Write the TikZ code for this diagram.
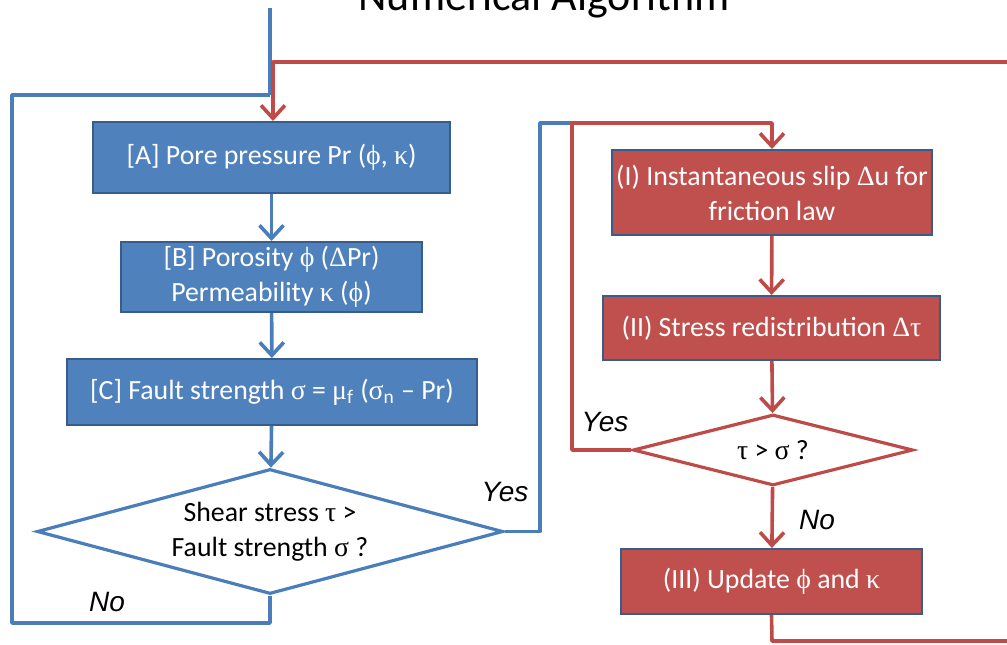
\documentclass[tikz,border=0pt]{standalone}
\usepackage{fontspec}
\setmainfont{Carlito}
\newfontfamily\grkfont{Liberation Serif}
\newfontfamily\lblfont{Liberation Sans}
\usepackage{tikz}
\usetikzlibrary{shapes.geometric,arrows.meta}
\definecolor{boxblue}{HTML}{4F81BD}
\definecolor{edgeblue}{HTML}{385D8A}
\definecolor{boxred}{HTML}{C0504D}
\definecolor{lineblue}{HTML}{4A7EBB}
\definecolor{linered}{HTML}{BE4B48}
\newcommand{\gk}[1]{{\grkfont #1}}

\begin{document}
\begin{tikzpicture}
	[x=0.5pt,y=-0.5pt,
	 every node/.style={font=\fontsize{13.9}{17.5}\selectfont,align=center,inner sep=0pt},
	 bbox/.style={rectangle,fill=boxblue,draw=edgeblue,line width=1pt,text=white},
	 rbox/.style={rectangle,fill=boxred,draw=edgeblue,line width=1pt,text=white},
	 bdec/.style={diamond,draw=lineblue,line width=1.6pt,fill=white,aspect=3.7},
	 rdec/.style={diamond,draw=linered,line width=1.6pt,fill=white,aspect=3.9},
	 bl/.style={draw=lineblue,line width=1.8pt,line join=round},
	 rl/.style={draw=linered,line width=1.8pt,line join=round},
	 arr/.style={-{Straight Barb[length=6.5pt,width=12pt]}},
	 lab/.style={font=\lblfont\itshape\fontsize{14}{16}\selectfont}]
	\useasboundingbox (0,0) rectangle (1007,644);
	\node[anchor=base,font=\fontsize{22}{26}\selectfont] (title) at (544,10) {Numerical Algorithm};
	% left column
	\node[bbox,minimum width=178.5pt,minimum height=35.5pt] (nA) at (271.5,157.5) {[A] Pore pressure Pr (\gk{ϕ}, \gk{κ})};
	\node[bbox,minimum width=150.5pt,minimum height=35pt] (nB) at (271.5,277) {[B] Porosity \gk{ϕ} (\gk{Δ}Pr)\\Permeability \gk{κ} (\gk{ϕ})};
	\node[bbox,minimum width=205pt,minimum height=33pt] (nC) at (272,392) {[C] Fault strength \gk{σ} = \gk{μ}\textsubscript{f} (\gk{σ}\textsubscript{n} -- Pr)};
	\node[bdec,minimum width=233pt,minimum height=62.5pt] (nD) at (270,531.5) {Shear stress \gk{τ} >\\Fault strength \gk{σ} ?};
	% right column
	\node[rbox,minimum width=160pt,minimum height=42.5pt] (nI) at (772,192.5) {(I) Instantaneous slip \gk{Δ}u for\\friction law};
	\node[rbox,minimum width=168.5pt,minimum height=32pt] (nII) at (771.5,328) {(II) Stress redistribution \gk{Δτ}};
	\node[rdec,minimum width=140pt,minimum height=35.5pt] (nE) at (773,450) {\gk{τ} > \gk{σ} ?};
	\node[rbox,minimum width=150.5pt,minimum height=32.5pt] (nIII) at (771.5,581.5) {(III) Update \gk{ϕ} and \gk{κ}};
	% labels
	\node[lab] (yes1) at (505,492) {Yes};
	\node[lab] (no1) at (107,602) {No};
	\node[lab] (yes2) at (605,422) {Yes};
	\node[lab] (no2) at (817,520) {No};
	% corner points
	\coordinate (in) at (270,8);
	\coordinate (jb) at (270,95);
	\coordinate (rtop) at (1007,62);
	\coordinate (jr) at (273,62);
	\coordinate (lb1) at (270,623);
	\coordinate (lb2) at (12,623);
	\coordinate (lb3) at (12,95);
	\coordinate (yb1) at (540,531.5);
	\coordinate (yb2) at (540,123);
	\coordinate (yr) at (572,123);
	\coordinate (yr1) at (572,450);
	\coordinate (yr3) at (772,123);
	\coordinate (dn1) at (772,641);
	\coordinate (dn2) at (1007,641);
	% blue connectors
	\draw[bl] (in) -- (jb);
	\draw[bl] (nD.south) -- (lb1) -- (lb2) -- (lb3) -- (jb);
	\draw[bl] (nD.east) -- (yb1) -- (yb2) -- (yr);
	\foreach \from/\to in {nA/nB,nB/nC,nC/nD}
	\draw[bl,arr] (\from) -- (\to);
	% red connectors
	\draw[rl,arr] (rtop) -- (jr) -- (jr |- nA.north);
	\draw[rl,arr] (nE.west) -- (yr1) -- (yr) -- (yr3) -- (nI.north);
	\draw[rl] (nIII.south) -- (dn1) -- (dn2);
	\foreach \from/\to in {nI/nII,nII/nE,nE/nIII}
	\draw[rl,arr] (\from) -- (\to);
\end{tikzpicture}
\end{document}
